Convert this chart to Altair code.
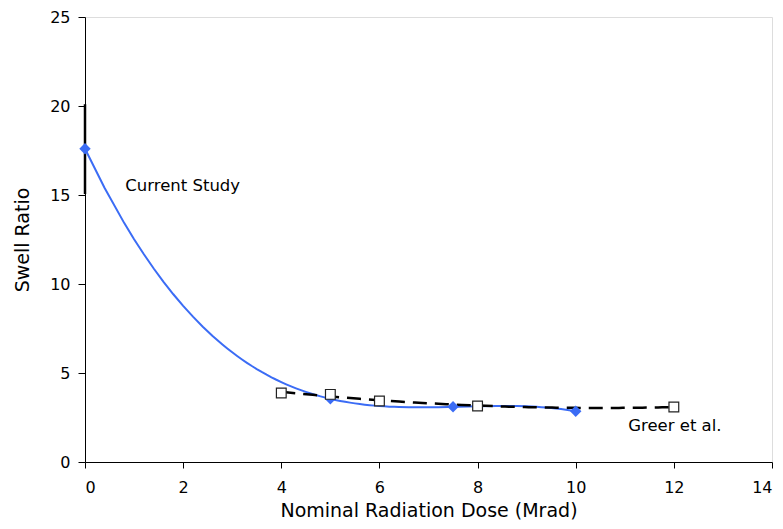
import altair as alt
import pandas as pd

# Current Study
cur_x = [0, 5, 7.5, 10]
cur_y = [17.6, 3.55, 3.1, 2.85]
# error bar at dose 0
err_x = [0]
err_lo = [15.05]
err_hi = [20.1]

# Greer et al.
gr_x = [4, 5, 6, 8, 12]
gr_y = [3.88, 3.8, 3.43, 3.15, 3.09]

labels_txt = ["Current Study", "Greer et al."]
labels_x = [0.82, 11.07]
labels_y = [15.5, 2.0]

cur = pd.DataFrame({"x": cur_x, "y": cur_y})
err = pd.DataFrame({"x": err_x, "lo": err_lo, "hi": err_hi})
gr = pd.DataFrame({"x": gr_x, "y": gr_y})
lab = pd.DataFrame({"t": labels_txt, "x": labels_x, "y": labels_y})

FONT = "DejaVu Sans"
BLUE = "#3b6cf5"

xs = alt.Scale(domain=[0, 14], nice=False, zero=False)
ys = alt.Scale(domain=[0, 25], nice=False)

xax = alt.Axis(values=list(range(0, 15, 2)), title="Nominal Radiation Dose (Mrad)",
               grid=False, domainColor="black", tickColor="black", tickSize=6,
               labelFont=FONT, labelFontSize=16, labelColor="black", labelPadding=11,
               titleFont=FONT, titleFontSize=19, titleFontWeight="normal", titleColor="black",
               titlePadding=6)
yax = alt.Axis(values=list(range(0, 26, 5)), title="Swell Ratio",
               grid=False, domainColor="black", tickColor="black", tickSize=7,
               labelFont=FONT, labelFontSize=16, labelColor="black", labelPadding=8,
               titleFont=FONT, titleFontSize=19, titleFontWeight="normal", titleColor="black",
               titlePadding=17)

X = alt.X("x:Q", scale=xs, axis=xax)
Y = alt.Y("y:Q", scale=ys, axis=yax)

errbar = alt.Chart(err).mark_rule(color="black", strokeWidth=2.5).encode(
    x=alt.X("x:Q", scale=xs, axis=xax),
    y=alt.Y("lo:Q", scale=ys, axis=yax),
    y2="hi:Q",
)

cur_fit = alt.Chart(cur).transform_regression(
    "x", "y", method="poly", order=3, extent=[0, 10]
).mark_line(color=BLUE, strokeWidth=2).encode(x=X, y=Y)

gr_fit = alt.Chart(gr).transform_regression(
    "x", "y", method="poly", order=2, extent=[4, 12]
).mark_line(color="black", strokeWidth=2.5, strokeDash=[14, 8]).encode(x=X, y=Y)

cur_pts = alt.Chart(cur).mark_point(shape="diamond", filled=True, color=BLUE,
                                    size=130, opacity=1).encode(x=X, y=Y)

gr_pts = alt.Chart(gr).mark_point(shape="square", filled=True, fill="white",
                                  stroke="#222", strokeWidth=1.2, size=95,
                                  opacity=1).encode(x=X, y=Y)

texts = alt.Chart(lab).mark_text(align="left", baseline="middle", font=FONT,
                                 fontSize=16.5, color="black").encode(
    x=alt.X("x:Q", scale=xs, axis=xax), y=alt.Y("y:Q", scale=ys, axis=yax), text="t:N")

chart = alt.layer(errbar, cur_fit, gr_fit, cur_pts, gr_pts, texts).properties(
    width=687, height=445,
    padding={"left": 77, "top": 9, "right": 3, "bottom": 59},
    autosize=alt.AutoSizeParams(type="none"),
).configure_view(stroke="#333", strokeWidth=1.2).configure(background="white")

chart.save("out.html", embed_options={"renderer": "svg", "actions": False})
